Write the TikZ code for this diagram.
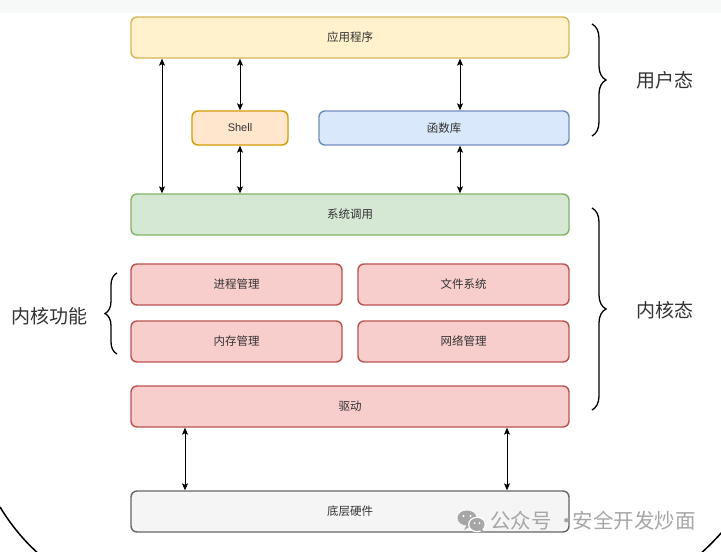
\documentclass[tikz,border=0pt]{standalone}
\usepackage{fontspec}
\setmainfont{Liberation Sans}
\newfontfamily\cjk{Noto Sans CJK SC}
\usetikzlibrary{arrows.meta,decorations.pathreplacing}
\definecolor{txt}{HTML}{333333}
\definecolor{yelF}{HTML}{FFF2CC}\definecolor{yelD}{HTML}{D6B656}
\definecolor{orF}{HTML}{FFE6CC}\definecolor{orD}{HTML}{D79B00}
\definecolor{blF}{HTML}{DAE8FC}\definecolor{blD}{HTML}{6C8EBF}
\definecolor{grF}{HTML}{D5E8D4}\definecolor{grD}{HTML}{82B366}
\definecolor{rdF}{HTML}{F8CECC}\definecolor{rdD}{HTML}{B85450}
\definecolor{gyF}{HTML}{F5F5F5}\definecolor{gyD}{HTML}{666666}
\definecolor{wm}{HTML}{A6A6A6}
\definecolor{topband}{HTML}{F7F8F8}
\tikzset{
  box/.style={draw, line width=1.4pt, rounded corners=6pt, text=txt,
    font=\cjk\fontsize{11.5}{13}\selectfont, inner sep=0pt},
  biarr/.style={line width=0.8pt, black,
    {Stealth[length=7pt,width=6pt,inset=1.5pt]}-{Stealth[length=7pt,width=6pt,inset=1.5pt]}},
  bigbrace/.style={decorate, decoration={brace, amplitude=14pt}, line width=1.3pt, black},
  sidelabel/.style={font=\cjk\fontsize{19}{21}\selectfont, text=txt, inner sep=0pt},
}
\begin{document}
\begin{tikzpicture}[x=1pt,y=-1pt]
\useasboundingbox (0,0) rectangle (721,552);
\fill[white] (0,0) rectangle (721,552);
\fill[topband] (0,0) rectangle (721,13);

% outer frame curves
\draw[line width=1.5pt] (0,507) .. controls (11,525) and (24,541) .. (40,555);
\draw[line width=1.5pt] (722,532) .. controls (715,540) and (708,547) .. (699,555);

% boxes
\node[box, fill=yelF, draw=yelD, minimum width=438, minimum height=41] (app) at (350,37.5) {应用程序};
\node[box, fill=orF, draw=orD, minimum width=96, minimum height=34, font=\fontsize{11}{13}\selectfont] (shell) at (240,128) {Shell};
\node[box, fill=blF, draw=blD, minimum width=250, minimum height=34] (lib) at (444,128) {函数库};
\node[box, fill=grF, draw=grD, minimum width=438, minimum height=41] (sys) at (350,214.5) {系统调用};
\node[box, fill=rdF, draw=rdD, minimum width=211, minimum height=41] (proc) at (236.5,284.5) {进程管理};
\node[box, fill=rdF, draw=rdD, minimum width=211, minimum height=41] (fs) at (463.5,284.5) {文件系统};
\node[box, fill=rdF, draw=rdD, minimum width=211, minimum height=41] (mem) at (236.5,341.5) {内存管理};
\node[box, fill=rdF, draw=rdD, minimum width=211, minimum height=41] (net) at (463.5,341.5) {网络管理};
\node[box, fill=rdF, draw=rdD, minimum width=438, minimum height=41] (drv) at (350,406.5) {驱动};
\node[box, fill=gyF, draw=gyD, minimum width=438, minimum height=41] (hw) at (350,511.5) {底层硬件};

% connector columns
\coordinate (c162) at (162,0);
\coordinate (c460) at (460,0);
\coordinate (c185) at (185,0);
\coordinate (c507) at (507,0);

\draw[biarr] (app.south -| c162) -- (sys.north -| c162);
\draw[biarr] (app.south -| shell) -- (shell.north);
\draw[biarr] (shell.south) -- (sys.north -| shell);
\draw[biarr] (app.south -| c460) -- (lib.north -| c460);
\draw[biarr] (lib.south -| c460) -- (sys.north -| c460);
\draw[biarr] (drv.south -| c185) -- (hw.north -| c185);
\draw[biarr] (drv.south -| c507) -- (hw.north -| c507);

% braces
\coordinate (b1a) at (592,24);  \coordinate (b1b) at (592,136);
\coordinate (b2a) at (592,208); \coordinate (b2b) at (592,410);
\coordinate (b3a) at (117,354); \coordinate (b3b) at (117,273);
\draw[bigbrace] (b1a) -- (b1b);
\draw[bigbrace] (b2a) -- (b2b);
\draw[bigbrace, decoration={brace, amplitude=12pt}] (b3a) -- (b3b);

\node[sidelabel] (user) at (665,80) {用户态};
\node[sidelabel] (kern) at (665,310) {内核态};
\node[sidelabel] (kfun) at (49.5,316) {内核功能};

% watermark
\begin{scope}
\fill[wm] (467,518) ellipse (9.5 and 7.5);
\fill[wm] (471,526) -- (464,530) -- (468,523) -- cycle;
\fill[white] (477,524.5) ellipse (9 and 7.8);
\fill[wm] (477,524.5) ellipse (7.6 and 6.5);
\fill[wm] (482,529) -- (485,533) -- (479,530) -- cycle;
\fill[white] (463.5,516) circle (1.2);
\fill[white] (470.5,516) circle (1.2);
\fill[white] (474.5,523) circle (1);
\fill[white] (479.5,523) circle (1);
\end{scope}
\node[font=\cjk\fontsize{20.5}{22}\selectfont, text=wm, anchor=west, inner sep=0pt] (wmtext) at (490,521) {公众号 ·\kern-4pt 安全开发炒面};
\end{tikzpicture}
\end{document}
